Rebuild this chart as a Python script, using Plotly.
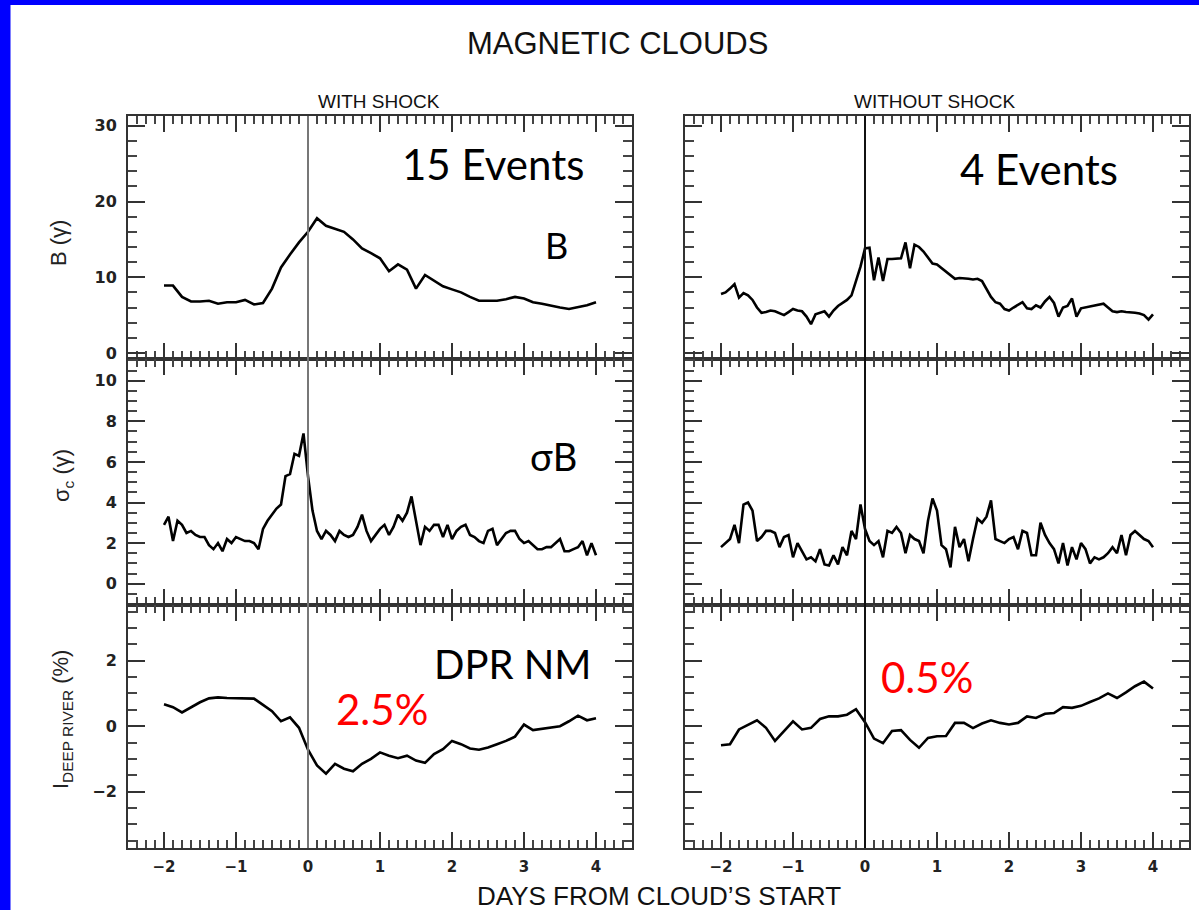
import plotly.graph_objects as go

W, H = 1199, 910

# ---------------- data ----------------
days8 = [i / 8 for i in range(-16, 33)]      # 3-hour steps, -2 .. 4 days
days16 = [i / 16 for i in range(-32, 65)]    # 1.5-hour steps, -2 .. 4 days

b_with_shock = [
    8.9, 8.9, 7.4, 6.8, 6.8, 6.9, 6.5, 6.7,
    6.7, 7.0, 6.4, 6.6, 8.5, 11.3, 13.0, 14.6,
    16.0, 17.8, 16.8, 16.4, 16.0, 15.0, 13.8, 13.2,
    12.5, 10.8, 11.7, 11.0, 8.5, 10.3, 9.6, 8.8,
    8.4, 8.0, 7.4, 6.9, 6.9, 6.9, 7.1, 7.4,
    7.2, 6.7, 6.5, 6.3, 6.0, 5.8, 6.0, 6.3,
    6.7,
]

b_without_shock = [
    7.8, 8.0, 8.5, 9.1, 7.3, 7.9, 7.6, 7.0, 6.0, 5.3, 5.4, 5.6, 5.5, 5.3, 5.0, 5.4,
    5.8, 5.6, 5.5, 4.8, 3.8, 5.1, 5.3, 5.5, 4.8, 5.6, 6.2, 6.6, 7.0, 7.6, 9.6, 11.4,
    13.8, 13.9, 9.6, 12.6, 9.5, 12.4, 12.4, 12.4, 12.5, 14.6, 11.2, 14.3, 14.0, 13.4, 12.6, 11.8,
    11.7, 11.2, 10.8, 10.3, 9.8, 9.9, 9.8, 9.8, 9.7, 9.8, 9.5, 8.4, 7.4, 6.7, 6.5, 5.8,
    5.6, 6.0, 6.3, 6.7, 5.9, 5.8, 6.3, 6.0, 6.8, 7.4, 6.6, 4.8, 6.0, 6.2, 7.2, 4.8,
    5.9, 6.0, 6.1, 6.3, 6.3, 6.5, 6.0, 5.5, 5.4, 5.5, 5.4, 5.4, 5.3, 5.2, 5.0, 4.4,
    5.1,
]

sigma_with_shock = [
    2.9, 3.3, 2.1, 3.1, 2.9, 2.5, 2.6, 2.4, 2.3, 2.3, 1.9, 1.7, 2.0, 1.6, 2.2, 2.0,
    2.3, 2.2, 2.1, 2.1, 2.0, 1.7, 2.7, 3.1, 3.4, 3.7, 3.9, 5.3, 5.4, 6.4, 6.3, 7.4,
    5.3, 3.6, 2.6, 2.2, 2.6, 2.4, 2.1, 2.6, 2.4, 2.3, 2.4, 2.8, 3.4, 2.6, 2.1, 2.4,
    2.7, 2.9, 2.4, 2.8, 3.4, 3.1, 3.5, 4.3, 3.1, 1.9, 2.8, 2.6, 2.9, 2.9, 2.3, 2.9,
    2.2, 2.6, 2.8, 2.9, 2.4, 2.3, 2.1, 2.0, 2.6, 2.7, 1.9, 2.2, 2.5, 2.6, 2.6, 2.2,
    2.0, 2.1, 1.9, 1.7, 1.7, 1.8, 1.8, 2.0, 2.2, 1.6, 1.6, 1.7, 1.8, 2.1, 1.4, 2.0,
    1.4,
]

sigma_without_shock = [
    1.8, 2.0, 2.2, 2.9, 2.0, 3.9, 4.0, 3.6, 2.1, 2.3, 2.6, 2.6, 2.5, 1.8, 2.3, 2.4,
    1.3, 2.0, 1.6, 1.2, 1.3, 1.1, 1.7, 0.95, 0.9, 1.4, 0.95, 1.8, 1.4, 2.6, 2.2, 3.9,
    2.7, 2.1, 1.9, 2.1, 1.3, 2.6, 2.5, 2.8, 2.5, 1.5, 2.4, 2.2, 2.1, 1.5, 3.1, 4.2,
    3.6, 1.9, 1.7, 0.8, 2.8, 1.8, 2.2, 1.1, 2.2, 3.2, 3.0, 3.3, 4.1, 2.2, 2.1, 2.0,
    2.2, 2.3, 1.7, 2.6, 2.5, 1.4, 1.4, 3.0, 2.4, 2.0, 1.7, 1.0, 2.0, 0.9, 1.8, 1.2,
    2.0, 1.7, 1.0, 1.3, 1.2, 1.3, 1.5, 1.8, 1.5, 2.4, 1.4, 2.4, 2.6, 2.4, 2.2, 2.1,
    1.8,
]

dpr_with_shock = [
    0.67, 0.58, 0.42, 0.58, 0.73, 0.85, 0.88, 0.86,
    0.85, 0.85, 0.84, 0.65, 0.46, 0.15, 0.27, -0.05,
    -0.72, -1.20, -1.45, -1.15, -1.30, -1.38, -1.15, -1.00,
    -0.80, -0.90, -0.98, -0.90, -1.05, -1.12, -0.85, -0.70,
    -0.45, -0.55, -0.68, -0.72, -0.65, -0.55, -0.45, -0.32,
    0.05, -0.12, -0.08, -0.04, 0.00, 0.15, 0.32, 0.18,
    0.24,
]

dpr_without_shock = [
    -0.58, -0.55, -0.10, 0.03, 0.18, -0.05, -0.45, -0.15,
    0.15, -0.10, -0.05, 0.22, 0.30, 0.30, 0.35, 0.52,
    0.12, -0.38, -0.52, -0.15, -0.12, -0.42, -0.66, -0.36,
    -0.31, -0.30, 0.10, 0.10, -0.06, 0.08, 0.18, 0.10,
    0.05, 0.10, 0.30, 0.25, 0.38, 0.40, 0.58, 0.56,
    0.62, 0.74, 0.85, 1.00, 0.86, 1.03, 1.22, 1.36,
    1.15,
]

column_titles = ["WITH SHOCK", "WITHOUT SHOCK"]
main_title = "MAGNETIC CLOUDS"
x_title = "DAYS FROM CLOUD\u2019S START"
y_titles = ["B (\u03b3)", "\u03c3<sub>c</sub> (\u03b3)", "I<sub>DEEP RIVER</sub> (%)"]
event_labels = ["15 Events", "4 Events"]
panel_labels = ["B", "\u03c3B", "DPR NM"]
amplitude_labels = ["2.5%", "0.5%"]

# ---------------- layout geometry (pixels) ----------------
col_px = [(128, 632), (685, 1189)]
row_px = [(116, 359), (359, 605), (605, 848)]
y_ranges = [[-0.8, 31.3], [-1.05, 11.07], [-3.72, 3.70]]
y_dticks = [10, 2, 2]
y_minor = [2, 0.5, 0.5]
x_range = [-2.5, 4.5]

series = [
    [(days8, b_with_shock), (days16, b_without_shock)],
    [(days16, sigma_with_shock), (days16, sigma_without_shock)],
    [(days8, dpr_with_shock), (days8, dpr_without_shock)],
]

AX = "#333333"
fig = go.Figure()
layout = dict(
    width=W, height=H,
    margin=dict(l=0, r=0, t=0, b=0, pad=0),
    paper_bgcolor="white", plot_bgcolor="white",
    showlegend=False, template="none",
    font=dict(family="DejaVu Sans", color="#222222"),
)
shapes = []
annotations = []


def px_x(x):
    return x / W


def px_y(y):
    return 1 - y / H


for r in range(3):
    for c in range(2):
        k = r * 2 + c + 1
        xn = "x" if k == 1 else f"x{k}"
        yn = "y" if k == 1 else f"y{k}"
        xs, ys = series[r][c]
        fig.add_trace(go.Scatter(
            x=xs, y=ys, mode="lines", xaxis=xn, yaxis=yn,
            line=dict(color="black", width=2.6), hoverinfo="skip",
        ))
        x0, x1 = col_px[c]
        ytop, ybot = row_px[r]
        layout["xaxis" if k == 1 else f"xaxis{k}"] = dict(
            domain=[px_x(x0), px_x(x1)], range=x_range, anchor=yn,
            showline=True, linecolor=AX, linewidth=2, mirror="allticks",
            ticks="inside", ticklen=16, tickwidth=2, tickcolor=AX,
            tick0=0, dtick=1,
            minor=dict(ticks="inside", ticklen=8, tickwidth=1.5, tickcolor="#444444",
                       tick0=0, dtick=0.125, showgrid=False),
            showgrid=False, zeroline=False, automargin=False,
            showticklabels=(r == 2), ticklabelstandoff=4,
            tickfont=dict(family="DejaVu Sans", size=15, color="#222222", weight="bold"),
        )
        layout["yaxis" if k == 1 else f"yaxis{k}"] = dict(
            domain=[px_y(ybot), px_y(ytop)], range=y_ranges[r], anchor=xn,
            showline=True, linecolor=AX, linewidth=2, mirror="allticks",
            ticks="inside", ticklen=17, tickwidth=2, tickcolor=AX,
            tick0=0, dtick=y_dticks[r],
            minor=dict(ticks="inside", ticklen=9, tickwidth=1.5, tickcolor="#444444",
                       tick0=0, dtick=y_minor[r], showgrid=False),
            showgrid=False, zeroline=False, automargin=False,
            showticklabels=(c == 0), ticklabelstandoff=6,
            tickfont=dict(family="DejaVu Sans", size=16, color="#222222", weight="bold"),
        )
        shapes.append(dict(
            type="line", xref=xn, yref=f"{yn} domain", x0=0, x1=0, y0=0, y1=1,
            line=dict(color="#777777" if c == 0 else "#111111", width=2), layer="above",
        ))

# blue frame of the slide
shapes.append(dict(type="rect", xref="paper", yref="paper", x0=0, x1=px_x(10.5), y0=0, y1=1,
                   fillcolor="#0000FF", line=dict(width=0), layer="above"))
shapes.append(dict(type="rect", xref="paper", yref="paper", x0=0, x1=1, y0=px_y(5), y1=1,
                   fillcolor="#0000FF", line=dict(width=0), layer="above"))


def ann(text, x, y, size, color="black", family="Lato", angle=0, weight="normal"):
    annotations.append(dict(
        text=text, x=px_x(x), y=px_y(y), xref="paper", yref="paper", showarrow=False,
        xanchor="center", yanchor="middle", textangle=angle,
        font=dict(size=size, color=color, family=family, weight=weight),
    ))


ann(main_title, 617, 43, 31, color="#111111", family="Liberation Sans")
ann(column_titles[0], 379, 101, 19, color="#111111", family="Liberation Sans")
ann(column_titles[1], 934, 101, 19, color="#111111", family="Liberation Sans")
ann(x_title, 659, 896, 26, color="#111111", family="Liberation Sans")

ann(y_titles[0], 59, 243, 22, color="#222222", family="Liberation Sans", angle=-90)
ann(y_titles[1], 63, 476, 22, color="#222222", family="Liberation Sans", angle=-90)
ann(y_titles[2], 62, 720, 22, color="#222222", family="Liberation Sans", angle=-90)

ann(event_labels[0], 493, 164, 42)
ann(event_labels[1], 1039, 169, 42)
ann(panel_labels[0], 556, 245, 36)
ann(panel_labels[1], 553, 456, 38)
ann(panel_labels[2], 512, 664, 40)
ann(amplitude_labels[0], 382, 709, 42, color="#FF0000")
ann(amplitude_labels[1], 927, 677, 42, color="#FF0000")

layout["shapes"] = shapes
layout["annotations"] = annotations
fig.update_layout(**layout)

fig.write_html(
    "out.html",
    config={"displayModeBar": False},
    post_script="document.body.style.margin='0px';document.body.style.padding='0px';"
                "document.documentElement.style.overflow='hidden';",
)
